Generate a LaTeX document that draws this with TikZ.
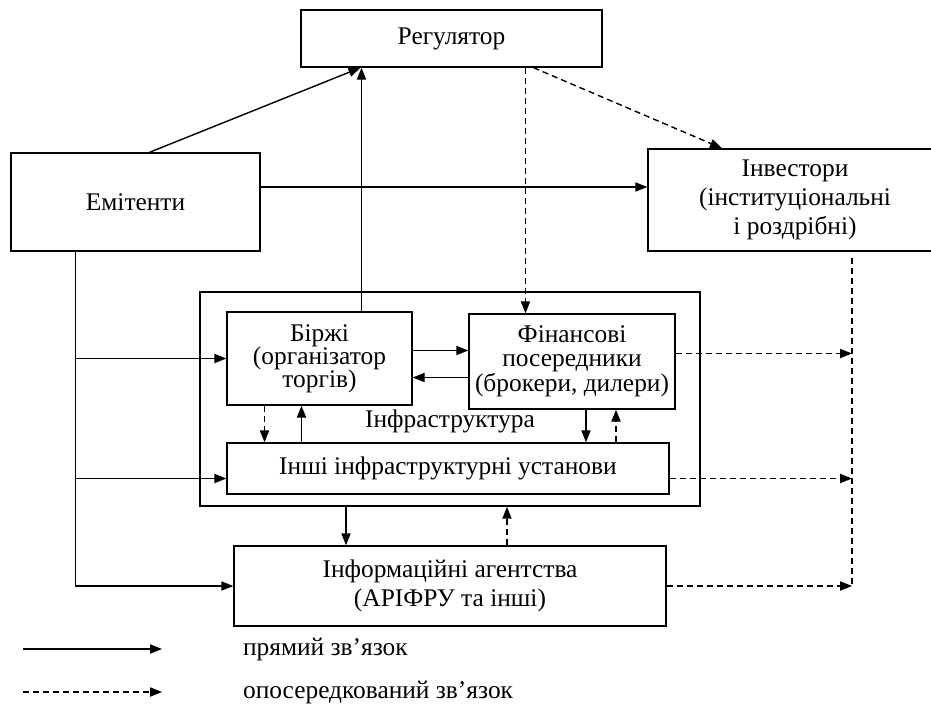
\documentclass[tikz,border=0pt]{standalone}
\usepackage{fontspec}
\setmainfont{Liberation Serif}
\usetikzlibrary{arrows.meta,calc}

\begin{document}
\begin{tikzpicture}[
  x=0.5pt, y=-0.5pt,
  txt/.style={font=\fontsize{12.7pt}{14.5pt}\selectfont},
  box/.style={rectangle, draw, line width=0.7pt, align=center, inner sep=0pt, txt},
  inbox/.style={box, font=\fontsize{12.7pt}{11.6pt}\selectfont},
  arr/.style={-{Triangle[length=6pt,width=4.6pt]}, line width=0.7pt},
  darr/.style={arr, dash pattern=on 3pt off 2pt},
  dline/.style={line width=0.7pt, dash pattern=on 3pt off 2pt}
]
\useasboundingbox (0,0) rectangle (931,708);

% boxes
\node[box, minimum width=150.5pt, minimum height=28.5pt] (reg) at (451.5,38.5) {Регулятор};
\node[box, minimum width=124.5pt, minimum height=49pt] (emit) at (135.5,202) {Емітенти};
\node[box, minimum width=147pt, minimum height=51pt] (inv) at (795,200) {Інвестори\\(інституціональні\\і роздрібні)};
\node[box, minimum width=250pt, minimum height=107pt] (infra) at (450,399) {};
\node[inbox, minimum width=92.5pt, minimum height=46.5pt] (birzhi) at (319.5,358.5) {Біржі\\(організатор\\торгів)};
\node[inbox, minimum width=103pt, minimum height=47.5pt] (fin) at (572,361.5) {Фінансові\\посередники\\(брокери, дилери)};
\node[txt] (infralabel) at (450,421) {Інфраструктура};
\node[box, minimum width=221pt, minimum height=25.5pt] (inshi) at (448,468.5) {Інші інфраструктурні установи};
\node[box, minimum width=216pt, minimum height=40pt] (info) at (450,586) {Інформаційні агентства\\(АРІФРУ та інші)};

% top links
\draw[arr] ($(emit.north)+(14,0)$) -- ($(reg.south)+(-91,0)$);
\draw[arr] ($(birzhi.north)+(42,0)$) coordinate (b0) -- (b0 |- reg.south);
\draw[darr] ($(reg.south)+(74,0)$) coordinate (r0) -- (r0 |- fin.north);
\draw[darr] ($(reg.south)+(82,0)$) -- ($(inv.north)+(-73,0)$);
\draw[arr] ($(emit.east)+(0,-15)$) coordinate (e0) -- (e0 -| inv.west);

% left trunk
\coordinate (i0) at ($(inshi.west)+(0,10)$);
\draw[arr] ($(emit.south)+(-60,0)$) coordinate (e1) |- (info.west);
\draw[arr] (e1 |- birzhi.west) -- (birzhi.west);
\draw[arr] (e1 |- i0) -- (i0);

% inside infrastructure
\draw[arr] ($(birzhi.east)+(0,-8)$) coordinate (b1) -- (b1 -| fin.west);
\coordinate (b2) at ($(birzhi.east)+(0,19)$);
\draw[arr] (b2 -| fin.west) -- (b2);
\draw[darr] ($(birzhi.south)+(-55,0)$) coordinate (b3) -- (b3 |- inshi.north);
\coordinate (b4) at ($(birzhi.south)+(-18,0)$);
\draw[arr] (b4 |- inshi.north) -- (b4);
\draw[arr] ($(fin.south)+(14,0)$) coordinate (f1) -- (f1 |- inshi.north);
\coordinate (f2) at ($(fin.south)+(44,0)$);
\draw[darr] (f2 |- inshi.north) -- (f2);
\draw[arr] ($(infra.south)+(-104,0)$) coordinate (n1) -- (n1 |- info.north);
\coordinate (n2) at ($(infra.south)+(57,0)$);
\draw[darr] (n2 |- info.north) -- (n2);

% right side
\coordinate (vtop) at ($(inv.south)+(57,6)$);
\coordinate (vbot) at (vtop |- info.east);
\draw[dline] (vtop) -- (vbot);
\draw[darr] ($(fin.east)+(0,-8)$) coordinate (f3) -- (f3 -| vtop);
\draw[darr] (i0 -| inshi.east) -- (i0 -| vtop);
\draw[darr] (info.east) -- (vbot);

% legend
\coordinate (l1) at (23,649);
\coordinate (l2) at (162,649);
\draw[arr] (l1) -- (l2);
\node[txt, anchor=west] (leg1) at (236,649) {прямий зв’язок};
\coordinate (l3) at (23,692);
\coordinate (l4) at (162,692);
\draw[darr] (l3) -- (l4);
\node[txt, anchor=west] (leg2) at (236,692) {опосередкований зв’язок};
\end{tikzpicture}
\end{document}
